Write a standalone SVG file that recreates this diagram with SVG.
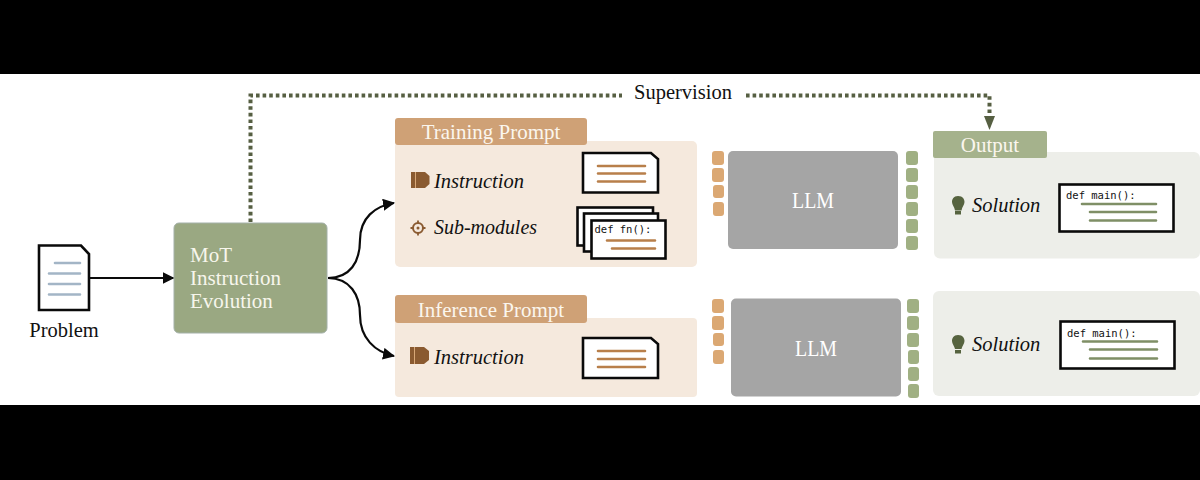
<svg xmlns="http://www.w3.org/2000/svg" width="1200" height="480" viewBox="0 0 1200 480">
<style>
text{font-family:"Liberation Serif","Noto Serif",serif}
.it{font-style:italic;font-size:20.5px;fill:#111}
.hd{font-size:21px;fill:#fbf6ee;text-anchor:middle}
.code{font-family:"DejaVu Sans Mono","Liberation Mono",monospace;font-size:10.5px;fill:#111}
.doc{fill:#fff;stroke:#0a0a0a;stroke-width:2.6}
.o{stroke:#b87f4a;stroke-width:2.6;fill:none;stroke-linecap:round}
.g{stroke:#7f8f66;stroke-width:2.6;fill:none;stroke-linecap:round}
.b{stroke:#a3b5c6;stroke-width:2.6;fill:none;stroke-linecap:round}
.cn{fill:none;stroke:#0a0a0a;stroke-width:2.2}
.sup{fill:none;stroke:#565f42;stroke-width:4;stroke-dasharray:3.6 3}
.po{fill:#f5e9dd}
.pg{fill:#edeee9}
.ho{fill:#cfa176}
.so{fill:#dba873}
.sg{fill:#a0b083}
.llm{fill:#a5a5a5}
.ic{fill:#8a5a30}
.ml{font-size:21px;fill:#f7f6ec}
</style>
<defs>
<marker id="ah" markerWidth="12" markerHeight="12" refX="11" refY="6" orient="auto" markerUnits="userSpaceOnUse"><path d="M0 0L12 6L0 12Z" fill="#0a0a0a"/></marker>
</defs>
<rect width="1200" height="480" fill="#fff"/>
<rect width="1200" height="74" fill="#000"/>
<rect y="405" width="1200" height="75" fill="#000"/>

<g id="connectors">
<path class="cn" d="M90 278H173.500" marker-end="url(#ah)"/>
<path class="cn" d="M328 278C350 278 360 262 360 240C360 218 375 206 394 203" marker-end="url(#ah)"/>
<path class="cn" d="M328 278C350 278 360 295 360 315C360 338 375 352 394 356" marker-end="url(#ah)"/>
<path class="sup" d="M250.500 222V95.500H622"/>
<path class="sup" d="M746 95.500H989.500V116"/>
<path d="M984 116H995L989.500 130Z" fill="#565f42"/>
</g>
<g id="supervision"><text x="683" y="99" font-size="20.500" text-anchor="middle" fill="#111">Supervision</text></g>

<g id="problem">
<path class="doc" d="M39 245.500H81L89 254V310H39Z"/>
<path class="b" d="M55 263H80M49 273.500H80M49 284H80M49 294.500H80"/>
<text x="64" y="337" font-size="20.500" text-anchor="middle" fill="#111">Problem</text>
</g>

<g id="mot">
<rect x="174" y="223" width="153" height="110" rx="5" fill="#9aa882" stroke="#a3b0a8"/>
<text class="ml" x="190" y="262">MoT</text>
<text class="ml" x="190" y="285">Instruction</text>
<text class="ml" x="190" y="308">Evolution</text>
</g>

<g id="training">
<rect class="po" x="395" y="141" width="302" height="126" rx="5"/>
<rect class="ho" x="395" y="118" width="192" height="27" rx="3"/>
<text class="hd" x="491" y="139">Training Prompt</text>
<path class="ic" d="M411 172H425L429.500 176V184L425 188H411Z"/>
<path d="M415.500 172V188" stroke="#d8a878" stroke-width="1"/>
<text class="it" x="434" y="188">Instruction</text>
<path class="doc" d="M583 153H651L658 159V192.500H583Z"/>
<path class="o" d="M598 166H645M598 173.500H645M598 181.500H645"/>
<circle cx="418" cy="228" r="5" fill="none" stroke="#8a5a30" stroke-width="2"/>
<circle cx="418" cy="228" r="1.500" fill="#8a5a30"/>
<path d="M418 220.500V223M418 233V235.500M410.500 228H413M423 228H425.500" stroke="#8a5a30" stroke-width="1.800"/>
<text class="it" x="434" y="234" textLength="103" lengthAdjust="spacingAndGlyphs">Sub-modules</text>
<rect class="doc" x="577.500" y="207.500" width="75.500" height="38"/>
<rect class="doc" x="584" y="213.500" width="74" height="38"/>
<rect class="doc" x="591.500" y="220.500" width="74" height="38"/>
<text class="code" x="594.500" y="233">def fn():</text>
<path class="o" d="M607 240.500H655M612 248.500H655"/>
</g>

<g id="inference">
<rect class="po" x="395" y="318" width="302" height="79" rx="4"/>
<rect class="ho" x="395" y="295" width="192" height="28" rx="3"/>
<text class="hd" x="491" y="317">Inference Prompt</text>
<path class="ic" d="M410 347H424L429 351V360L424 364H410Z"/>
<path d="M414.500 347V364" stroke="#d8a878" stroke-width="1"/>
<text class="it" x="434" y="364">Instruction</text>
<path class="doc" d="M583 338H651L658 344V378H583Z"/>
<path class="o" d="M598 351H645M598 359H645M598 367H645"/>
</g>

<g id="llm1">
<rect class="llm" x="728" y="151" width="170" height="98" rx="5"/>
<text x="813" y="208" font-size="23" fill="#fff" text-anchor="middle" textLength="42" lengthAdjust="spacingAndGlyphs">LLM</text>
</g>
<g id="llm1-inputs">
<rect class="so" x="712" y="151" width="12" height="14" rx="3"/>
<rect class="so" x="712" y="168" width="12" height="14" rx="3"/>
<rect class="so" x="713" y="185" width="11" height="13" rx="3"/>
<rect class="so" x="713" y="202" width="11" height="14" rx="3"/>
</g>
<g id="llm1-outputs">
<rect class="sg" x="906" y="151" width="12" height="14" rx="3"/>
<rect class="sg" x="906" y="168" width="12" height="14" rx="3"/>
<rect class="sg" x="906" y="185" width="12" height="14" rx="3"/>
<rect class="sg" x="906" y="202" width="12" height="14" rx="3"/>
<rect class="sg" x="906" y="219" width="12" height="14" rx="3"/>
<rect class="sg" x="906" y="236" width="12" height="14" rx="3"/>
</g>

<g id="llm2">
<rect class="llm" x="731" y="298.500" width="170" height="98" rx="5"/>
<text x="816" y="356" font-size="23" fill="#fff" text-anchor="middle" textLength="42" lengthAdjust="spacingAndGlyphs">LLM</text>
</g>
<g id="llm2-inputs">
<rect class="so" x="712" y="299" width="12" height="14" rx="3"/>
<rect class="so" x="712" y="316" width="12" height="14" rx="3"/>
<rect class="so" x="713" y="333" width="11" height="13" rx="3"/>
<rect class="so" x="713" y="350" width="11" height="14" rx="3"/>
</g>
<g id="llm2-outputs">
<rect class="sg" x="907" y="299" width="12" height="14" rx="3"/>
<rect class="sg" x="907" y="316" width="12" height="14" rx="3"/>
<rect class="sg" x="907" y="333" width="12" height="14" rx="3"/>
<rect class="sg" x="908" y="350" width="11" height="14" rx="3"/>
<rect class="sg" x="908" y="367" width="11" height="14" rx="3"/>
<rect class="sg" x="908" y="384" width="11" height="14" rx="3"/>
</g>

<g id="output">
<rect class="pg" x="934" y="152" width="266" height="106.500" rx="6"/>
<rect x="933" y="131" width="114" height="27" rx="2" fill="#a5b28c"/>
<text class="hd" x="990" y="152">Output</text>
<path d="M958 196C963 196 964.500 199.500 964.500 202C964.500 205 962 207 961.500 210.500H955C954.500 207 952 205 952 202C952 199.500 953.500 196 958 196Z" fill="#56633f"/>
<rect x="955" y="211" width="6" height="3.500" fill="#56633f"/>
<text class="it" x="972" y="212">Solution</text>
<rect class="doc" x="1059.500" y="184.500" width="114" height="47"/>
<text class="code" x="1066" y="199">def main():</text>
<path class="g" d="M1082 204H1156M1090 212H1156M1090 220.500H1156"/>
</g>

<g id="solution2">
<rect class="pg" x="933" y="291" width="267" height="105" rx="6"/>
<path d="M958 335C963 335 964.500 338.500 964.500 341C964.500 344 962 346 961.500 349H955C954.500 346 952 344 952 341C952 338.500 953.500 335 958 335Z" fill="#56633f"/>
<rect x="955" y="350" width="6" height="3.500" fill="#56633f"/>
<text class="it" x="972" y="351">Solution</text>
<rect class="doc" x="1060.500" y="321.500" width="114" height="47"/>
<text class="code" x="1067" y="337">def main():</text>
<path class="g" d="M1083 341.500H1157M1090 349.500H1157M1090 358.500H1157"/>
</g>
</svg>
